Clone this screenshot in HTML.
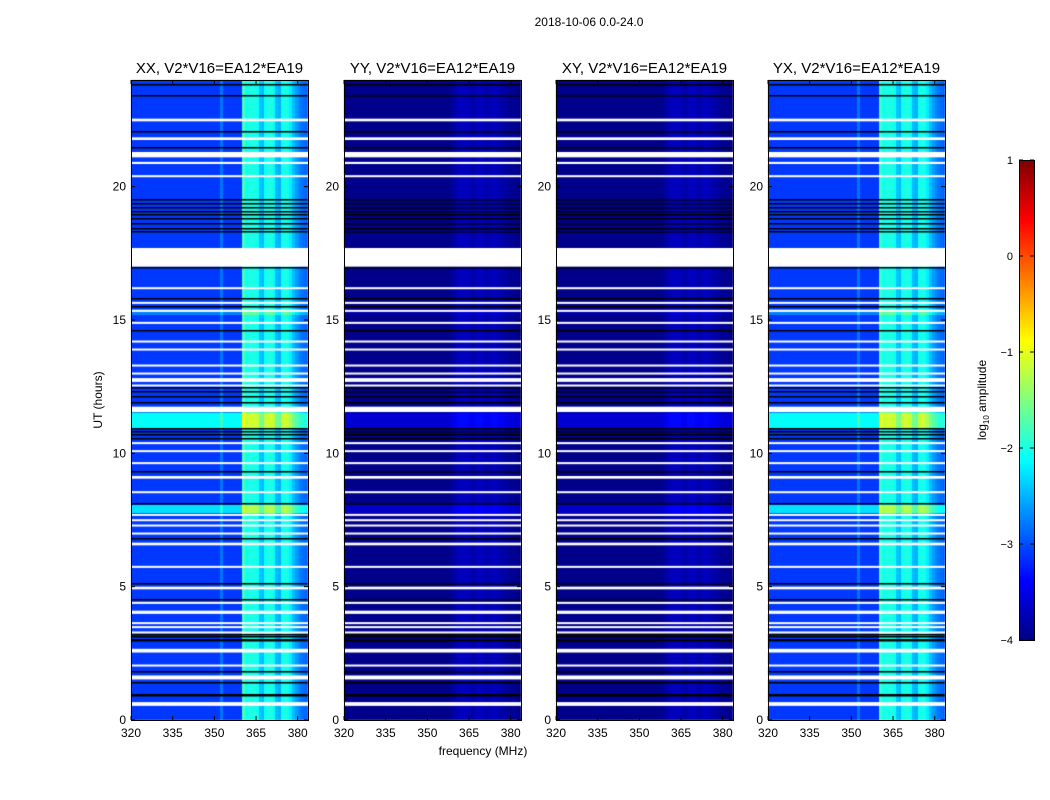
<!DOCTYPE html>
<html><head><meta charset="utf-8"><style>
body{margin:0;background:#fff;width:1050px;height:800px;overflow:hidden;font-family:"Liberation Sans",sans-serif;}
#root{position:relative;width:1050px;height:800px;}
canvas{position:absolute;}
</style></head><body><div id="root">
<svg id="ov" width="1050" height="800" style="position:absolute;left:0;top:0"></svg>
</div>
<script>
// ---- data ----
const panelTitles=["XX, V2*V16=EA12*EA19","YY, V2*V16=EA12*EA19","XY, V2*V16=EA12*EA19","YX, V2*V16=EA12*EA19"];
const xTicks=[320,335,350,365,380];
const yTicks=[0,5,10,15,20];
const cbTicks=[1,0,-1,-2,-3,-4];
// frequency profile (1 MHz bins from 320 to 383), log10 amplitude
const freqProfileStrong=[-3.1,-3.1,-3.1,-3.1,-3.1,-3.1,-3.1,-3.1,-3.1,-3.1,-3.1,-3.1,-3.1,-3.1,-3.1,-3.1,-3.1,-3.1,-3.1,-3.1,-3.1,-3.1,-3.1,-3.1,-3.1,-3.1,-3.1,-3.1,-3.1,-3.1,-3.1,-3.1,-2.8,-3.1,-3.1,-3.1,-3.1,-3.1,-3.1,-3.1,-1.8,-2.05,-2.0,-2.0,-2.0,-2.05,-2.4,-2.45,-2.05,-2.0,-2.0,-2.1,-2.45,-2.5,-2.05,-2.0,-2.05,-2.2,-2.45,-2.6,-2.7,-2.8,-2.85,-2.9];
const freqProfileWeak=[-3.95,-3.95,-3.95,-3.95,-3.95,-3.95,-3.95,-3.95,-3.95,-3.95,-3.95,-3.95,-3.95,-3.95,-3.95,-3.95,-3.95,-3.95,-3.95,-3.95,-3.95,-3.95,-3.95,-3.95,-3.95,-3.95,-3.95,-3.95,-3.95,-3.95,-3.95,-3.95,-3.95,-3.95,-3.95,-3.95,-3.95,-3.95,-3.9,-3.85,-3.75,-3.7,-3.7,-3.7,-3.7,-3.75,-3.8,-3.7,-3.7,-3.7,-3.75,-3.8,-3.75,-3.7,-3.7,-3.75,-3.8,-3.8,-3.85,-3.9,-3.9,-3.9,-3.95,-3.95];
// flagged (white) time intervals [start,end] in hours
const gapIntervals=[[22.45,22.55],[21.75,21.85],[21.1,21.3],[20.85,20.93],[20.37,20.43],[17.0,17.7],[16.17,16.23],[15.62,15.68],[15.32,15.38],[14.87,14.93],[14.17,14.23],[13.87,13.93],[13.27,13.33],[12.97,13.03],[12.68,12.82],[12.52,12.58],[11.55,11.75],[10.38,10.42],[10.08,10.12],[9.63,9.67],[9.05,9.15],[8.52,8.58],[7.67,7.73],[7.47,7.53],[7.27,7.33],[6.97,7.03],[6.55,6.65],[5.72,5.78],[4.9,5.0],[4.37,4.43],[3.98,4.1],[3.63,3.67],[3.48,3.52],[3.28,3.32],[2.53,2.67],[2.02,2.08],[1.52,1.67],[0.53,0.67]];
// dark (black) lines in hours
const darkLines=[23.8,23.4,22.05,21.45,19.5,19.35,19.2,19.05,18.95,18.8,18.6,18.4,18.3,16.95,15.8,15.5,14.6,12.45,12.3,12.1,11.9,10.9,10.8,10.7,10.55,9.3,8.1,6.8,5.1,4.5,3.2,3.1,3.0,2.95,1.8,1.4,0.95,0.9];
// brightened time bands [start,end,offset]
const brightBands=[[10.95,11.5,0.9],[7.75,8.05,0.75],[15.2,15.4,0.35],[11.5,11.55,0.4]];
const panelProfile=["strong","weak","weak","strong"];
// ---- layout ----
const panelX=[131,344,556,768], PW=177, PY0=80, PY1=720;
const fMin=320,fMax=383.7,tMin=0,tMax=24;
function xs(i,f){return panelX[i]+(f-fMin)/(fMax-fMin)*PW;}
function ys(t){return PY1-(t-tMin)/(tMax-tMin)*(PY1-PY0);}
function jet(v){v=Math.max(0,Math.min(1,v));
 const r=Math.max(0,Math.min(1,1.5-Math.abs(4*v-3))),g=Math.max(0,Math.min(1,1.5-Math.abs(4*v-2))),b=Math.max(0,Math.min(1,1.5-Math.abs(4*v-1)));
 return `rgb(${Math.round(r*255)},${Math.round(g*255)},${Math.round(b*255)})`;}
function cmap(val){return jet((val+4)/5);}
const root=document.getElementById('root'), ov=document.getElementById('ov');
const NS='http://www.w3.org/2000/svg';
function sv(tag,attrs,name,txt){const e=document.createElementNS(NS,tag);for(const k in attrs)e.setAttribute(k,attrs[k]);
 
 
 if(txt!==undefined)e.textContent=txt;ov.appendChild(e);return e;}
const dt=0.05;
for(let i=0;i<4;i++){
 const cv=document.createElement('canvas');cv.width=1050;cv.height=800;cv.style.left='0';cv.style.top='0';
 
 
 root.insertBefore(cv,ov);
 const ctx=cv.getContext('2d');
 const prof=panelProfile[i]==="strong"?freqProfileStrong:freqProfileWeak;
 for(let t=0;t<tMax;t+=dt){
  let off=0;brightBands.forEach(b=>{if(t+dt/2>=b[0]&&t+dt/2<b[1])off=Math.max(off,b[2]);});
  if(panelProfile[i]==="weak")off*=0.4;
  const y0=Math.round(ys(t+dt)),y1=Math.round(ys(t));
  for(let k=0;k<prof.length;k++){
   let v=prof[k]+off;
   if(off>0.5&&panelProfile[i]==="strong"&&k<40)v=prof[k]+off*1.1;
   ctx.fillStyle=cmap(v);
   const x0=Math.round(xs(i,fMin+k)),x1=Math.round(xs(i,Math.min(fMax,fMin+k+1)));
   ctx.fillRect(x0,y0,x1-x0,y1-y0);
  }
 }
 ctx.fillStyle='#000';
 darkLines.forEach(h=>{ctx.fillRect(panelX[i],Math.round(ys(h))-1,PW,1.5);});
 ctx.fillStyle='#fff';
 gapIntervals.forEach(g=>{const y0=ys(g[1]),y1=ys(g[0]);ctx.fillRect(panelX[i],y0,PW,Math.max(2,y1-y0));});
 sv('rect',{x:panelX[i]+0.5,y:PY0+0.5,width:PW,height:PY1-PY0,fill:'none',stroke:'#000','stroke-width':1},'panel-frame');
 sv('text',{x:panelX[i]+PW/2,y:73,'text-anchor':'middle','font-size':15},'panel-title',panelTitles[i]);
 xTicks.forEach(f=>{const x=xs(i,f);
  sv('line',{x1:x,x2:x,y1:PY1,y2:PY1-4,stroke:'#000'},'x-tick');
  sv('line',{x1:x,x2:x,y1:PY0,y2:PY0+4,stroke:'#000'},'x-tick');
  sv('text',{x:x,y:737,'text-anchor':'middle','font-size':12},'x-tick-label',String(f));});
 yTicks.forEach(t=>{const y=ys(t);
  sv('line',{x1:panelX[i],x2:panelX[i]+4,y1:y,y2:y,stroke:'#000'},'y-tick');
  sv('line',{x1:panelX[i]+PW,x2:panelX[i]+PW-4,y1:y,y2:y,stroke:'#000'},'y-tick');
  sv('text',{x:panelX[i]-5,y:y+4,'text-anchor':'end','font-size':12},'y-tick-label',String(t));});
}
sv('text',{x:589,y:26,'text-anchor':'middle','font-size':12},'figure-title','2018-10-06 0.0-24.0');
sv('text',{x:483,y:755,'text-anchor':'middle','font-size':12},'x-axis-title','frequency (MHz)');
sv('text',{x:0,y:0,'text-anchor':'middle','font-size':12,transform:'translate(102,400) rotate(-90)'},'y-axis-title','UT (hours)');
const CB0=160,CB1=640,CBX=1019,CBW=15;
function cys(v){return CB1-(v+4)/5*(CB1-CB0);}
for(let v=-4;v<1;v+=0.02){sv('rect',{x:CBX,y:cys(v+0.02),width:CBW,height:cys(v)-cys(v+0.02)+0.6,fill:cmap(v+0.01)},'colorbar-segment');}
sv('rect',{x:CBX+0.5,y:CB0+0.5,width:CBW,height:CB1-CB0,fill:'none',stroke:'#000'},'colorbar-frame');
cbTicks.forEach(v=>{const y=cys(v);
 sv('line',{x1:CBX,x2:CBX+4,y1:y,y2:y,stroke:'#000'},'colorbar-tick');
 sv('line',{x1:CBX+CBW,x2:CBX+CBW-4,y1:y,y2:y,stroke:'#000'},'colorbar-tick');
 sv('text',{x:1013,y:y+4,'text-anchor':'end','font-size':11},'colorbar-tick-label',v<0?'\u2212'+Math.abs(v):String(v));});
const lt=sv('text',{x:0,y:0,'text-anchor':'middle','font-size':12,transform:'translate(986,400) rotate(-90)'},'colorbar-label');
lt.innerHTML='log<tspan font-size="8" dy="3">10</tspan><tspan dy="-3"> amplitude</tspan>';
</script></body></html>
